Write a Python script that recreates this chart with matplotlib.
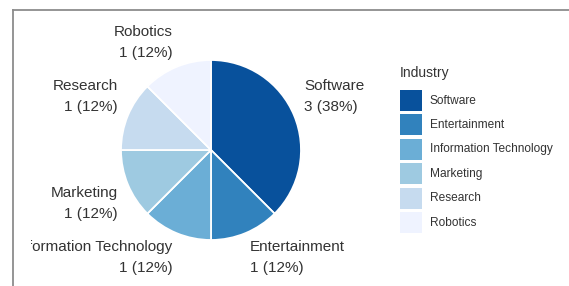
import numpy as np
import matplotlib
matplotlib.use("Agg")
import matplotlib.pyplot as plt
from matplotlib.patches import Rectangle
from matplotlib.lines import Line2D

plt.rcParams['font.family'] = ['Liberation Sans', 'DejaVu Sans']

industries = ["Software", "Entertainment", "Information Technology",
              "Marketing", "Research", "Robotics"]
counts = [3, 1, 1, 1, 1, 1]
colors = ["#08519c", "#3182bd", "#6baed6", "#9ecae1", "#c6dbef", "#eff3ff"]
legend_title = "Industry"

W, H = 569, 286
fig = plt.figure(figsize=(W / 100, H / 100), dpi=100)
cx, cy, R = 211, 150, 90  # pixel centre / radius of the pie
ax = fig.add_axes([0, 0, 1, 1])

wedges, _ = ax.pie(counts, colors=colors, startangle=90, counterclock=False,
                   radius=1.0, center=(0, 0), frame=True,
                   wedgeprops=dict(edgecolor='white', linewidth=1.3))
ax.set_xlim(-cx / R, (W - cx) / R)
ax.set_ylim(-(H - cy) / R, cy / R)
ax.set_aspect('auto')
ax.axis('off')

total = sum(counts)
text_color = '#333333'
clip_rect = Rectangle((31 / W, 0), 1, 1, transform=fig.transFigure)
for w, name, v in zip(wedges, industries, counts):
    ang = np.deg2rad((w.theta1 + w.theta2) / 2)
    x = 1.12 * np.cos(ang)
    y = 1.12 * np.sin(ang)
    y -= 0.03 * np.sign(y)
    ha = 'left' if x > 0 else 'right'
    va = 'bottom' if y > 0 else 'top'
    t = ax.text(x, y, f"{name}\n{v} ({round(100 * v / total)}%)",
                ha=ha, va=va, multialignment=ha, fontsize=11,
                color=text_color, linespacing=1.63)
    t.set_clip_path(clip_rect)
    t.set_clip_on(True)

# frame lines (top and left)
fig.add_artist(Line2D([12.5 / W, 1], [1 - 9.5 / H, 1 - 9.5 / H],
                      transform=fig.transFigure, color='#8c8c8c', lw=1.3))
fig.add_artist(Line2D([12.5 / W, 12.5 / W], [0, 1 - 9.5 / H],
                      transform=fig.transFigure, color='#8c8c8c', lw=1.3))

# legend
lx, ly0, sw, shh, pitch = 400, 90, 22, 21, 24.4
fig.text(lx / W, 1 - 73 / H, legend_title, ha='left', va='center',
         fontsize=10, color=text_color)
for i, (c, name) in enumerate(zip(colors, industries)):
    top = ly0 + i * pitch
    fig.add_artist(Rectangle((lx / W, 1 - (top + shh) / H), sw / W, shh / H,
                             transform=fig.transFigure, facecolor=c,
                             edgecolor='none'))
    fig.text((lx + sw + 8) / W, 1 - (top + shh / 2) / H, name, ha='left',
             va='center', fontsize=8.6, color=text_color)

fig.savefig("out.png", dpi=100)
